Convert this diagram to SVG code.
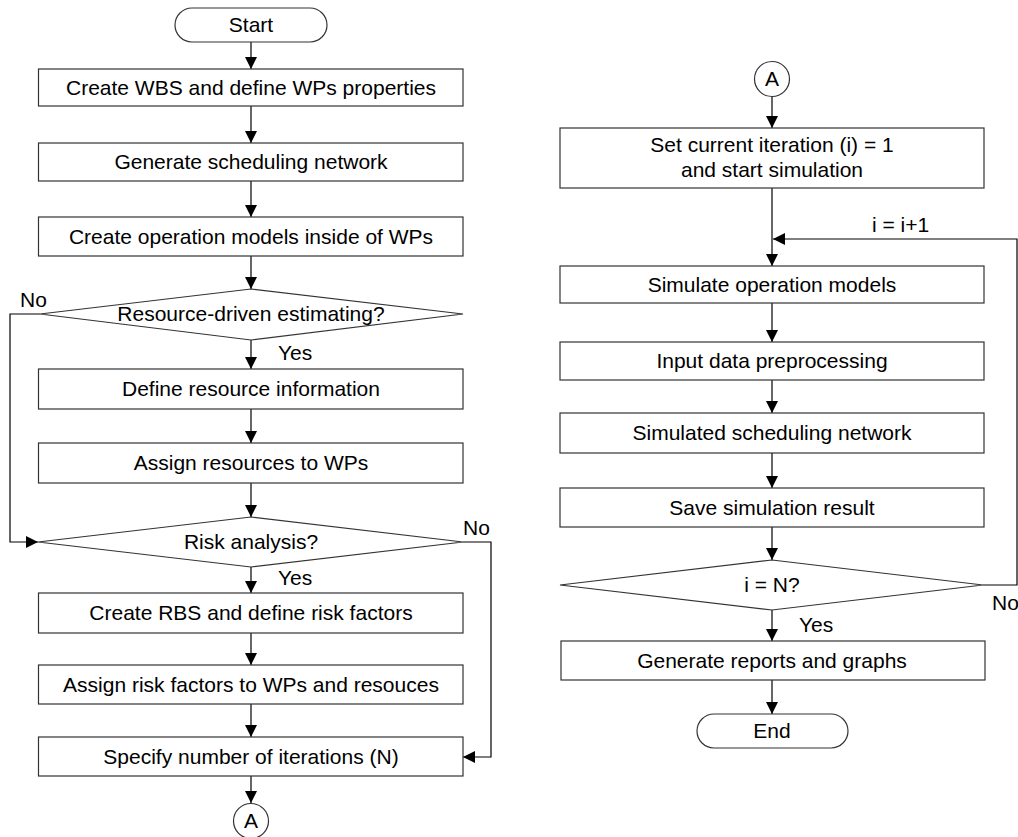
<svg xmlns="http://www.w3.org/2000/svg" width="1018" height="837" viewBox="0 0 1018 837">
<style>
.box{fill:#fff;stroke:#333;stroke-width:1.2}
.ln{fill:none;stroke:#000;stroke-width:1.2}
.t{font-family:"Liberation Sans",Arial,sans-serif;font-size:21px;fill:#000;text-anchor:middle}
.l{font-family:"Liberation Sans",Arial,sans-serif;font-size:21px;fill:#000}
</style>
<defs>
<marker id="ah" markerUnits="userSpaceOnUse" markerWidth="13" markerHeight="13" refX="12" refY="6" orient="auto">
<path d="M0,0 L12,6 L0,12 z" fill="#000"/>
</marker>
</defs>
<rect width="1018" height="837" fill="#fff"/>
<g id="connectors">
<line class="ln" x1="251" y1="42" x2="251" y2="69" marker-end="url(#ah)"/>
<line class="ln" x1="251" y1="106" x2="251" y2="143" marker-end="url(#ah)"/>
<line class="ln" x1="251" y1="181" x2="251" y2="217" marker-end="url(#ah)"/>
<line class="ln" x1="251" y1="256" x2="251" y2="289" marker-end="url(#ah)"/>
<line class="ln" x1="251" y1="340" x2="251" y2="369" marker-end="url(#ah)"/>
<line class="ln" x1="251" y1="409" x2="251" y2="443" marker-end="url(#ah)"/>
<line class="ln" x1="251" y1="483" x2="251" y2="517" marker-end="url(#ah)"/>
<polyline class="ln" points="40,314 10,314 10,542 38,542" marker-end="url(#ah)"/>
<line class="ln" x1="251" y1="567" x2="251" y2="593" marker-end="url(#ah)"/>
<line class="ln" x1="251" y1="633" x2="251" y2="665" marker-end="url(#ah)"/>
<line class="ln" x1="251" y1="704" x2="251" y2="737" marker-end="url(#ah)"/>
<polyline class="ln" points="463,542 491,542 491,757 463,757" marker-end="url(#ah)"/>
<line class="ln" x1="251" y1="776" x2="251" y2="803" marker-end="url(#ah)"/>
<line class="ln" x1="772" y1="96" x2="772" y2="128" marker-end="url(#ah)"/>
<line class="ln" x1="772" y1="188" x2="772" y2="266" marker-end="url(#ah)"/>
<polyline class="ln" points="983,585 1017,585 1017,239 773,239" marker-end="url(#ah)"/>
<line class="ln" x1="772" y1="303" x2="772" y2="342" marker-end="url(#ah)"/>
<line class="ln" x1="772" y1="380" x2="772" y2="413" marker-end="url(#ah)"/>
<line class="ln" x1="772" y1="453" x2="772" y2="488" marker-end="url(#ah)"/>
<line class="ln" x1="772" y1="527" x2="772" y2="560" marker-end="url(#ah)"/>
<line class="ln" x1="772" y1="610" x2="772" y2="641" marker-end="url(#ah)"/>
<line class="ln" x1="772" y1="680" x2="772" y2="714" marker-end="url(#ah)"/>
<text class="l" x="20" y="307">No</text>
<text class="l" x="278" y="360">Yes</text>
<text class="l" x="463" y="535">No</text>
<text class="l" x="278" y="585">Yes</text>
<text class="l" x="872" y="232">i = i+1</text>
<text class="l" x="992" y="610">No</text>
<text class="l" x="799" y="632">Yes</text>
</g>
<g id="start"><rect class="box" x="175" y="8" width="152" height="34" rx="17" ry="17"/><text class="t" x="251" y="32">Start</text></g>
<g id="wbs"><rect class="box" x="38.5" y="69" width="424.5" height="37"/><text class="t" x="251" y="95">Create WBS and define WPs properties</text></g>
<g id="gen-net"><rect class="box" x="38.5" y="143" width="424.5" height="38"/><text class="t" x="251" y="169">Generate scheduling network</text></g>
<g id="op-models"><rect class="box" x="38.5" y="217" width="424.5" height="39"/><text class="t" x="251" y="244">Create operation models inside of WPs</text></g>
<g id="dec-resource"><polygon class="box" points="251,289 463,314 251,340 40,314"/><text class="t" x="251" y="321">Resource-driven estimating?</text></g>
<g id="def-res"><rect class="box" x="38.5" y="369" width="424.5" height="40"/><text class="t" x="251" y="396">Define resource information</text></g>
<g id="assign-res"><rect class="box" x="38.5" y="443" width="424.5" height="40"/><text class="t" x="251" y="470">Assign resources to WPs</text></g>
<g id="dec-risk"><polygon class="box" points="251,517 463,542 251,567 38,542"/><text class="t" x="251" y="549">Risk analysis?</text></g>
<g id="rbs"><rect class="box" x="38.5" y="593" width="424.5" height="40"/><text class="t" x="251" y="620">Create RBS and define risk factors</text></g>
<g id="assign-risk"><rect class="box" x="38.5" y="665" width="424.5" height="39"/><text class="t" x="251" y="692">Assign risk factors to WPs and resouces</text></g>
<g id="iterations"><rect class="box" x="38.5" y="737" width="424.5" height="39"/><text class="t" x="251" y="764">Specify number of iterations (N)</text></g>
<g id="conn-a1"><circle class="box" cx="251" cy="821" r="17.5"/><text class="t" x="251" y="828">A</text></g>
<g id="conn-a2"><circle class="box" cx="772" cy="79" r="17.5"/><text class="t" x="772" y="86">A</text></g>
<g id="set-iter"><rect class="box" x="560" y="128" width="424" height="60"/><text class="t" x="772" y="152">Set current iteration (i) = 1</text><text class="t" x="772" y="177">and start simulation</text></g>
<g id="sim-op"><rect class="box" x="560" y="266" width="424" height="37"/><text class="t" x="772" y="292">Simulate operation models</text></g>
<g id="input-data"><rect class="box" x="560" y="342" width="424" height="38"/><text class="t" x="772" y="368">Input data preprocessing</text></g>
<g id="sim-net"><rect class="box" x="560" y="413" width="424" height="40"/><text class="t" x="772" y="440">Simulated scheduling network</text></g>
<g id="save"><rect class="box" x="560" y="488" width="424" height="39"/><text class="t" x="772" y="515">Save simulation result</text></g>
<g id="dec-n"><polygon class="box" points="772,560 983,585 772,610 560,585"/><text class="t" x="772" y="592">i = N?</text></g>
<g id="reports"><rect class="box" x="561" y="641" width="424" height="39"/><text class="t" x="772" y="668">Generate reports and graphs</text></g>
<g id="end"><rect class="box" x="697" y="714" width="151" height="34" rx="17" ry="17"/><text class="t" x="772" y="738">End</text></g>
</svg>
